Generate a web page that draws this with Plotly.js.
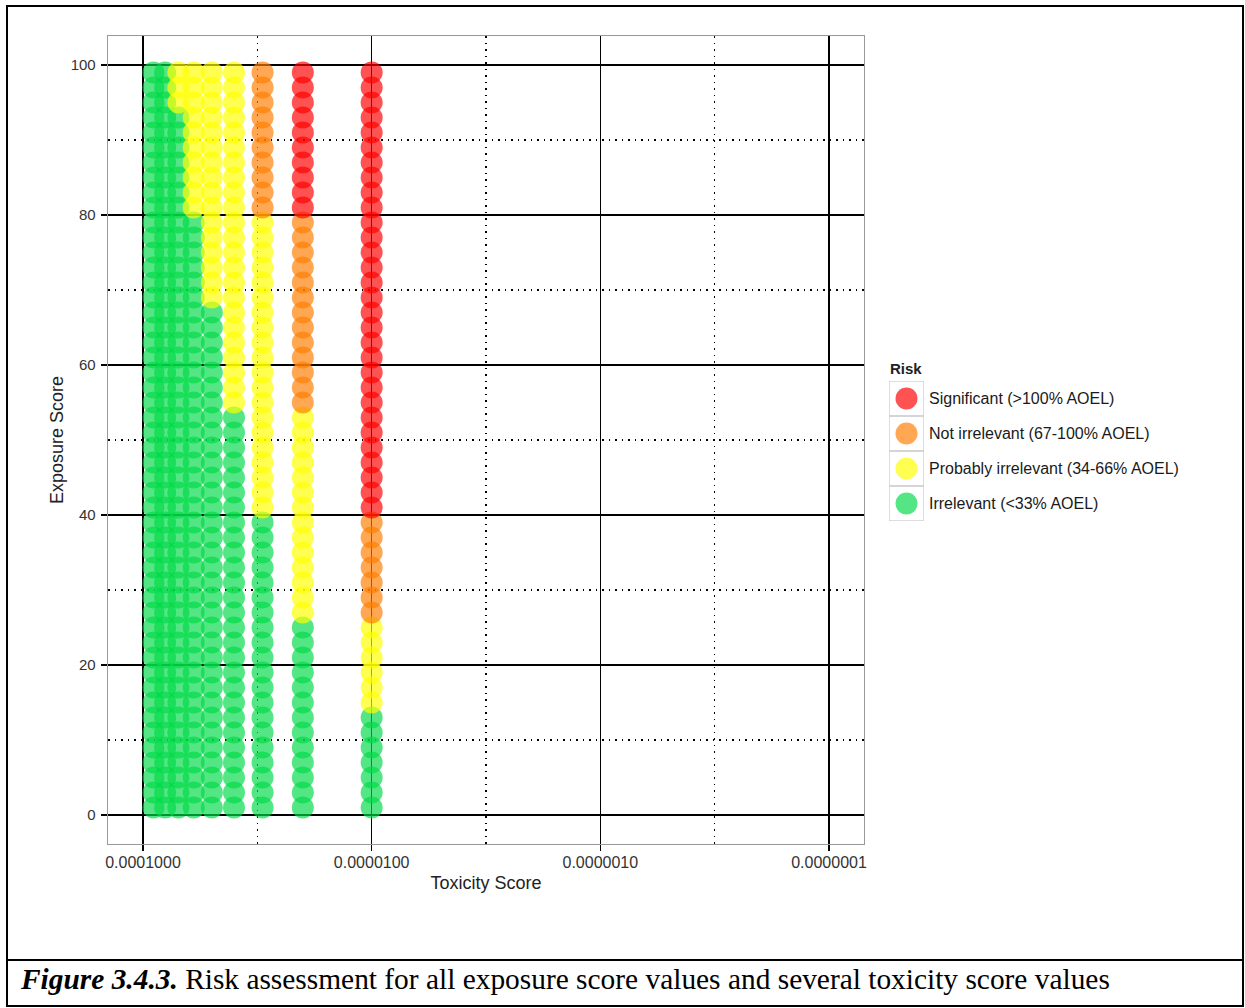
<!DOCTYPE html>
<html>
<head>
<meta charset="utf-8">
<script src="https://cdn.plot.ly/plotly-3.0.1.min.js"></script>
<style>html,body{margin:0;padding:0;background:#fff;}#chart{width:1245px;height:1008px;}</style>
</head>
<body>
<div id="chart"></div>
<script>
// ---- data ----
const toxicity = [9e-5, 8e-5, 7e-5, 6e-5, 5e-5, 4e-5, 3e-5, 2e-5, 1e-5];
const exposure = [1,3,5,7,9,11,13,15,17,19,21,23,25,27,29,31,33,35,37,39,41,43,45,47,49,
                  51,53,55,57,59,61,63,65,67,69,71,73,75,77,79,81,83,85,87,89,91,93,95,97,99];
// highest exposure value of each risk class, per toxicity column
const greenTop  = [99, 99, 93, 79, 67, 53, 39, 25, 13];
const yellowTop = [99, 99, 99, 99, 99, 99, 79, 53, 25];
const orangeTop = [99, 99, 99, 99, 99, 99, 99, 79, 39];

const riskLabels = ["Significant (>100% AOEL)", "Not irrelevant (67-100% AOEL)",
                    "Probably irrelevant (34-66% AOEL)", "Irrelevant (&lt;33% AOEL)"];
const riskColors = ["rgba(255,0,0,0.68)", "rgba(255,125,0,0.68)",
                    "rgba(255,255,0,0.68)", "rgba(0,218,72,0.67)"];

const xTickVals = [1e-4, 1e-5, 1e-6, 1e-7];
const xTickText = ["0.0001000", "0.0000100", "0.0000010", "0.0000001"];
const yTickVals = [0, 20, 40, 60, 80, 100];

// ---- build classes ----
function riskClass(ci, e) {
  if (e <= greenTop[ci]) return 3;
  if (e <= yellowTop[ci]) return 2;
  if (e <= orangeTop[ci]) return 1;
  return 0;
}
const pts = [[], [], [], []].map(() => ({x: [], y: []}));
toxicity.forEach((t, ci) => {
  exposure.forEach(e => {
    const k = riskClass(ci, e);
    pts[k].x.push(t);
    pts[k].y.push(e);
  });
});

const traces = [];
[3, 2, 1, 0].forEach(k => {
  traces.push({
    type: "scatter", mode: "markers", x: pts[k].x, y: pts[k].y,
    xaxis: "x", yaxis: "y", showlegend: false, hoverinfo: "x+y",
    marker: {size: 22, color: riskColors[k], line: {width: 0}}
  });
});
// legend keys
traces.push({
  type: "scatter", mode: "markers", x: [0.5, 0.5, 0.5, 0.5], y: [3.5, 2.5, 1.5, 0.5],
  xaxis: "x2", yaxis: "y2", showlegend: false, hoverinfo: "skip",
  marker: {size: 22, color: riskColors, line: {width: 0}}
});

const W = 1245, L = 108, R = 20, T = 36, B = 164;
const PW = W - L - R, PH = 1008 - T - B;
const px = v => (v - L) / PW;
const py = v => (1008 - B - v) / PH;

const font = "Liberation Sans, Arial, sans-serif";
const shapes = [];
for (let i = 0; i < 4; i++) {
  shapes.push({type: "rect", xref: "x2", yref: "y2", x0: 0, x1: 1, y0: i, y1: i + 1,
               line: {color: "#d2d2d2", width: 1.5}, fillcolor: "rgba(0,0,0,0)"});
}
// figure frame and caption separator
shapes.push({type: "rect", xref: "paper", yref: "paper", x0: px(7), x1: px(1243), y0: py(6), y1: py(1006),
             line: {color: "#000", width: 2}});
shapes.push({type: "line", xref: "paper", yref: "paper", x0: px(7), x1: px(1243), y0: py(960), y1: py(960),
             line: {color: "#000", width: 2}});

const annotations = [];
annotations.push({xref: "paper", yref: "paper", x: px(888), y: py(368), xanchor: "left", yanchor: "middle",
                  text: "<b>Risk</b>", showarrow: false, font: {family: font, size: 15, color: "#222"}});
riskLabels.forEach((lab, i) => {
  annotations.push({xref: "paper", yref: "y2", x: px(927), y: 3.5 - i, xanchor: "left", yanchor: "middle",
                    text: lab, showarrow: false, font: {family: font, size: 16, color: "#1a1a1a"}});
});
annotations.push({xref: "paper", yref: "paper", x: px(18), y: py(979), xanchor: "left", yanchor: "middle",
                  text: "<b><i>Figure 3.4.3.</i></b> Risk assessment for all exposure score values and several toxicity score values",
                  showarrow: false, font: {family: "Liberation Serif, Times New Roman, serif", size: 29.4, color: "#000"}});

const dotted = "1.5px,5px";
const layout = {
  width: W, height: 1008,
  margin: {l: L, r: R, t: T, b: B, pad: 0},
  paper_bgcolor: "#fff", plot_bgcolor: "#fff",
  showlegend: false,
  xaxis: {
    type: "log", domain: [0, 756 / PW], range: [-3.847, -7.153],
    tickmode: "array", tickvals: xTickVals, ticktext: xTickText,
    showgrid: true, gridcolor: "#000", gridwidth: 1.3,
    minor: {tickmode: "array", tickvals: [3.1623e-5, 3.1623e-6, 3.1623e-7], showgrid: true,
            gridcolor: "#000", griddash: dotted, gridwidth: 1.4, ticks: ""},
    ticks: "outside", ticklen: 6, tickwidth: 1.3, tickcolor: "#000",
    ticklabelstandoff: -3,
    showline: true, linecolor: "#999", linewidth: 1.3, mirror: true, zeroline: false,
    tickfont: {family: font, size: 16, color: "#333"},
    title: {text: "Toxicity Score", font: {family: font, size: 18, color: "#222"}, standoff: 7},
    fixedrange: true
  },
  yaxis: {
    range: [-3.87, 103.87],
    tickmode: "array", tickvals: yTickVals,
    showgrid: true, gridcolor: "#000", gridwidth: 1.3,
    minor: {tickmode: "array", tickvals: [10, 30, 50, 70, 90], showgrid: true,
            gridcolor: "#000", griddash: dotted, gridwidth: 1.4, ticks: ""},
    ticks: "outside", ticklen: 6, tickwidth: 1.3, tickcolor: "#000",
    ticklabelstandoff: 2,
    showline: true, linecolor: "#999", linewidth: 1.3, mirror: true, zeroline: false,
    tickfont: {family: font, size: 15, color: "#333"},
    title: {text: "Exposure Score", font: {family: font, size: 18, color: "#222"}, standoff: 2},
    fixedrange: true
  },
  xaxis2: {domain: [px(889), px(924)], range: [0, 1], anchor: "y2", visible: false, fixedrange: true},
  yaxis2: {domain: [py(521), py(381)], range: [0, 4], anchor: "x2", visible: false, fixedrange: true},
  shapes: shapes,
  annotations: annotations
};

Plotly.newPlot("chart", traces, layout, {displayModeBar: false, staticPlot: true});
</script>
</body>
</html>
